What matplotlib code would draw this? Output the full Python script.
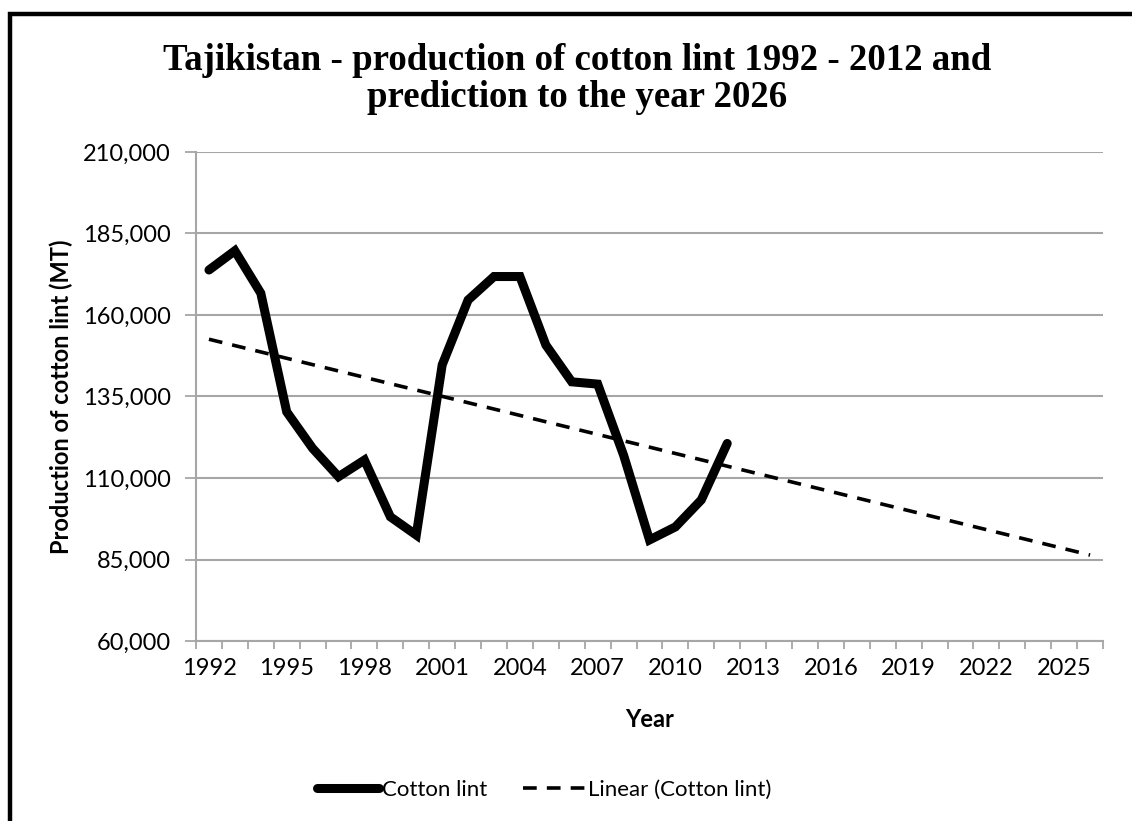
import numpy as np
import matplotlib
matplotlib.use("Agg")
import matplotlib.pyplot as plt
from matplotlib.ticker import FuncFormatter, FixedLocator
from matplotlib.patches import Rectangle

# Cotton lint production, Tajikistan (metric tonnes)
years_observed = list(range(1992, 2013))
cotton_lint = [173800, 179700, 166700, 130300, 119100, 110400, 115500, 98100, 92500,
               144700, 164600, 171800, 171800, 150800, 139500, 138800, 117000, 91000,
               95000, 103300, 120600]
years_all = list(range(1992, 2027))
label_years = list(range(1992, 2026, 3))

y_ticks = [60000, 85000, 110000, 135000, 160000, 185000, 210000]

sans = ["Lato", "DejaVu Sans"]
serif = ["Liberation Serif", "DejaVu Serif"]
grid_col = "#a6a6a6"
fs = 17

fig = plt.figure(figsize=(11.32, 8.21), dpi=100)
W, H = 1132, 821
ax = fig.add_axes([196 / W, 1 - 641 / H, (1103 - 196) / W, (641 - 152) / H])

x_obs = np.array([years_all.index(y) for y in years_observed])
x_all = np.arange(len(years_all))

# observed series
ax.plot(x_obs, cotton_lint, color="black", lw=6.5, solid_joinstyle="miter",
        solid_capstyle="round", label="Cotton lint", zorder=3)

# least-squares linear trend extended to the end of the horizon
coef = np.polyfit(x_obs, cotton_lint, 1)
ax.plot(x_all, np.polyval(coef, x_all), color="black", lw=2.6,
        dashes=(3.8, 2.8), label="Linear (Cotton lint)", zorder=2)

ax.set_xlim(-0.5, len(years_all) - 0.5)
ax.set_ylim(y_ticks[0], y_ticks[-1])
ax.set_yticks(y_ticks)
ax.yaxis.set_major_formatter(FuncFormatter(lambda v, p: f"{int(v):,}"))
ax.grid(axis="y", color=grid_col, lw=1.5)
ax.set_axisbelow(True)

ax.set_xticks([years_all.index(y) for y in label_years])
ax.set_xticklabels([str(y) for y in label_years])
ax.xaxis.set_minor_locator(FixedLocator(np.arange(-0.5, len(years_all), 1.0)))
ax.tick_params(axis="x", which="major", length=0, pad=12, labelsize=fs)
ax.tick_params(axis="x", which="minor", length=6, width=1.3, color=grid_col, direction="out")
ax.tick_params(axis="y", length=8, width=1.3, color=grid_col, pad=10, labelsize=fs)
for lbl in ax.get_xticklabels() + ax.get_yticklabels():
    lbl.set_family(sans)

for side in ("top", "right"):
    ax.spines[side].set_visible(False)
for side in ("left", "bottom"):
    ax.spines[side].set_color(grid_col)
    ax.spines[side].set_linewidth(1.5)

ax.set_xlabel("Year", fontsize=fs, fontweight="bold", family=sans, labelpad=21)
ax.set_ylabel("Production of cotton lint (MT)", fontsize=fs, fontweight="bold",
              family=sans, labelpad=7)

fig.text(577 / W, 1 - 79 / H,
         "Tajikistan - production of cotton lint 1992 - 2012 and\nprediction to the year 2026",
         ha="center", va="center", fontsize=26.6, fontweight="bold", family=serif,
         linespacing=1.1)

leg = fig.legend(loc="center", bbox_to_anchor=(544 / W, 1 - 790 / H), ncol=2,
                 frameon=False, prop={"family": sans, "size": 16},
                 handlelength=2.8, handletextpad=0.12, columnspacing=1.6)

# outer chart frame
fig.add_artist(Rectangle((10 / W, -0.05), 1.2, 1 - 14.5 / H + 0.05,
                         transform=fig.transFigure, fill=False,
                         edgecolor="black", lw=3.2))

fig.savefig("out.png", dpi=100)
